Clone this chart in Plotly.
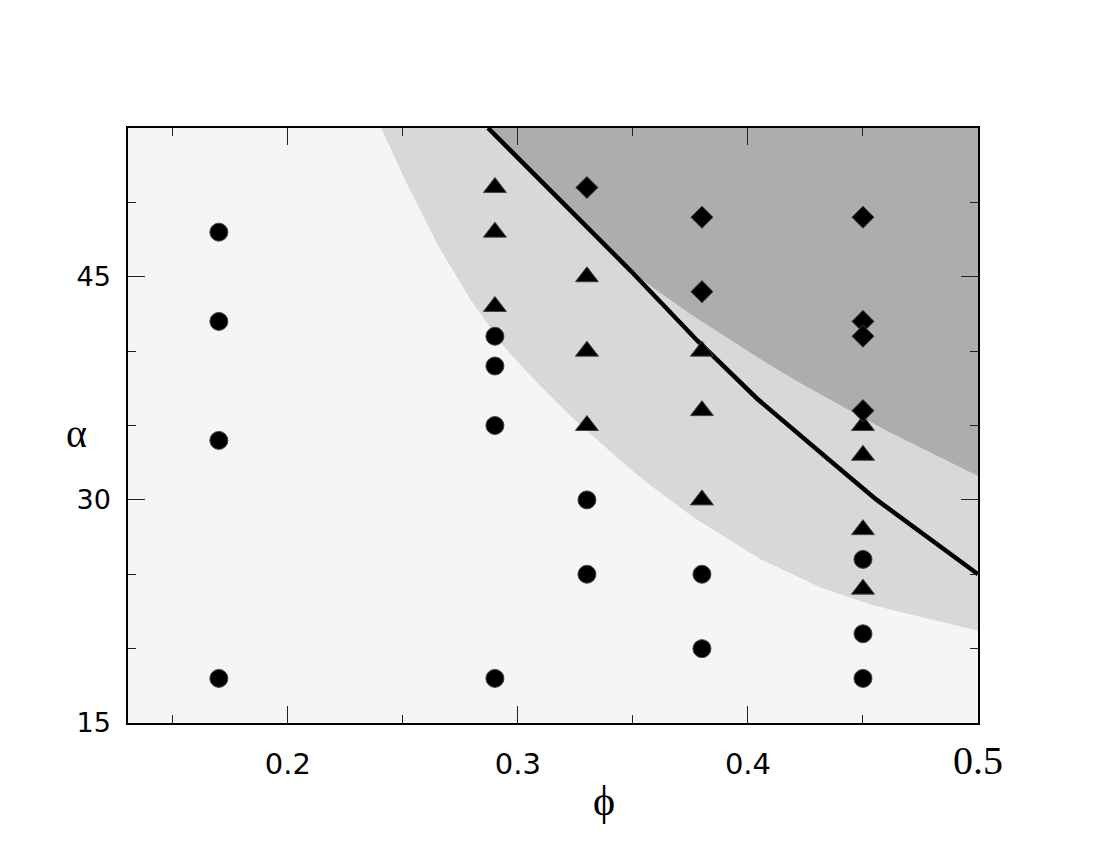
import plotly.graph_objects as go

# axis limits
PHI_MIN, PHI_MAX = 0.1305, 0.5
ALPHA_MIN, ALPHA_MAX = 15, 55

# measured points
circle_phi = [0.17, 0.17, 0.17, 0.17, 0.29, 0.29, 0.29, 0.29, 0.33, 0.33, 0.38, 0.38, 0.45, 0.45, 0.45]
circle_alpha = [48, 42, 34, 18, 41, 39, 35, 18, 30, 25, 25, 20, 26, 21, 18]

triangle_phi = [0.29, 0.29, 0.29, 0.33, 0.33, 0.33, 0.38, 0.38, 0.38, 0.45, 0.45, 0.45, 0.45]
triangle_alpha = [51, 48, 43, 45, 40, 35, 40, 36, 30, 35, 33, 28, 24]

diamond_phi = [0.33, 0.38, 0.38, 0.45, 0.45, 0.45, 0.45]
diamond_alpha = [51, 49, 44, 49, 42, 41, 36]

# lower shaded boundary (light -> mid gray)
low_phi = [0.2405, 0.2513, 0.2653, 0.2796, 0.2940, 0.3087, 0.3231, 0.3405,
           0.3548, 0.3765, 0.4057, 0.4318, 0.4548, 0.5000]
low_alpha = [55.0, 51.4, 47.1, 43.4, 40.3, 37.8, 35.6, 33.2,
             31.3, 28.8, 26.0, 24.1, 22.9, 21.2]

# upper shaded boundary (mid -> dark gray)
high_phi = [0.287, 0.318, 0.349, 0.362, 0.375, 0.390, 0.404, 0.420, 0.435, 0.461, 0.500]
high_alpha = [55.0, 50.2, 45.4, 43.9, 42.5, 41.0, 39.6, 38.1, 36.8, 34.6, 31.6]

# solid curve
curve_phi = [0.287, 0.318, 0.349, 0.378, 0.404, 0.436, 0.456, 0.500]
curve_alpha = [55.0, 50.2, 45.4, 40.7, 36.8, 32.6, 30.0, 25.0]


def region_path(phis, alphas):
    # boundary closed against the top-right corner of the frame
    pts = list(zip(phis, alphas)) + [(PHI_MAX, alphas[-1]), (PHI_MAX, ALPHA_MAX)]
    return "M " + " L ".join(f"{p},{a}" for p, a in pts) + " Z"


fig = go.Figure()

fig.add_trace(go.Scatter(x=curve_phi, y=curve_alpha, mode="lines",
                         line=dict(color="black", width=4.5, simplify=False)))

marker_edge = dict(color="#444", width=1)
fig.add_trace(go.Scatter(x=circle_phi, y=circle_alpha, mode="markers",
                         marker=dict(symbol="circle", size=18, color="black", line=marker_edge)))
fig.add_trace(go.Scatter(x=triangle_phi, y=triangle_alpha, mode="markers",
                         marker=dict(symbol="triangle-up", size=20, color="black", line=marker_edge)))
fig.add_trace(go.Scatter(x=diamond_phi, y=diamond_alpha, mode="markers",
                         marker=dict(symbol="diamond", size=17, color="black", line=marker_edge)))

fig.add_shape(type="path", path=region_path(low_phi, low_alpha), xref="x", yref="y",
              fillcolor="#d8d8d8", line=dict(width=0), layer="below")
fig.add_shape(type="path", path=region_path(high_phi, high_alpha), xref="x", yref="y",
              fillcolor="#adadad", line=dict(width=0), layer="below")

xt_vals = [0.2, 0.3, 0.4, 0.5]
xt_text = ["0.2", "0.3", "0.4",
           '<span style="font-family:Liberation Serif;font-size:40px">0.5</span>']

# plot area in pixels (window offset compensated)
L, T, W, H = 120, 120, 850, 595

fig.update_layout(
    width=1100, height=850,
    margin=dict(l=L, r=1100 - L - W, t=T, b=850 - T - H),
    paper_bgcolor="white", plot_bgcolor="#f5f5f5",
    showlegend=False,
    xaxis=dict(range=[PHI_MIN, PHI_MAX], showgrid=False, zeroline=False,
               showline=True, linecolor="black", linewidth=1.5, mirror="allticks",
               ticks="inside", ticklen=17, tickcolor="#222", tickwidth=1,
               tickvals=xt_vals, ticktext=xt_text, ticklabelstandoff=14,
               tickfont=dict(family="DejaVu Sans", size=29, color="black"),
               minor=dict(dtick=0.05, tick0=0, ticks="inside", ticklen=8, tickcolor="#222", showgrid=False)),
    yaxis=dict(range=[ALPHA_MIN, ALPHA_MAX], showgrid=False, zeroline=False,
               showline=True, linecolor="black", linewidth=1.5, mirror="allticks",
               ticks="inside", ticklen=17, tickcolor="#222", tickwidth=1,
               tickvals=[15, 30, 45], ticklabelstandoff=10,
               tickfont=dict(family="DejaVu Sans", size=27, color="black"),
               minor=dict(dtick=5, tick0=0, ticks="inside", ticklen=8, tickcolor="#222", showgrid=False)),
    annotations=[
        dict(text="α", x=(75 - 127) / W, y=1 - (433 - 127) / H, xref="paper", yref="paper",
             xanchor="center", yanchor="middle", showarrow=False,
             font=dict(family="Liberation Serif", size=40, color="black")),
        dict(text="ϕ", x=(603 - 127) / W, y=1 - (800 - 127) / H, xref="paper", yref="paper",
             xanchor="center", yanchor="middle", showarrow=False,
             font=dict(family="Liberation Serif", size=42, color="black")),
    ],
)

fig.write_html("out.html")
